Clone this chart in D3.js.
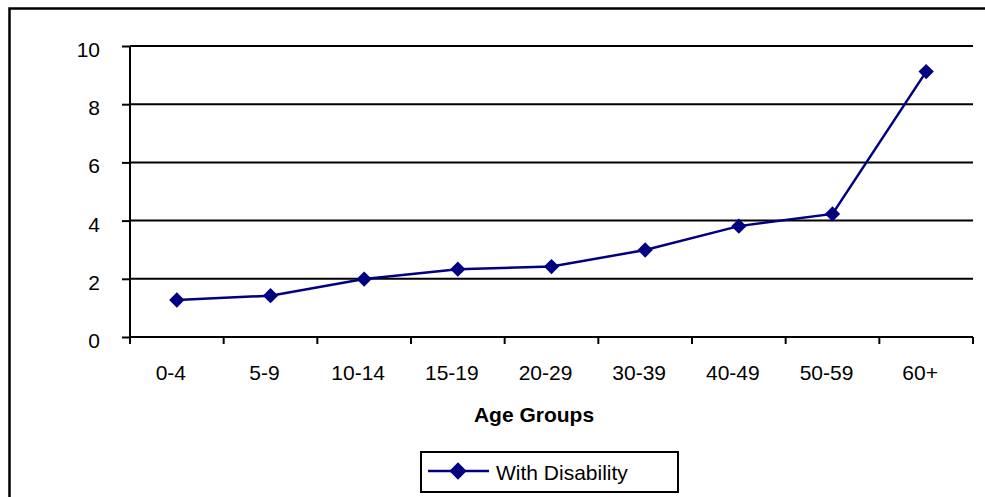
<!DOCTYPE html>
<html>
<head>
<meta charset="utf-8">
<script src="https://cdn.jsdelivr.net/npm/d3@7"></script>
<style>
  body { margin: 0; background: #fff; }
  text { font-family: "Liberation Sans", Arial, sans-serif; }
</style>
</head>
<body>
<svg width="985" height="497"></svg>
<script>
var categories = ["0-4", "5-9", "10-14", "15-19", "20-29", "30-39", "40-49", "50-59", "60+"];
var disabilityValues = [1.27, 1.42, 1.99, 2.33, 2.42, 2.99, 3.81, 4.23, 9.12];
var yTicks = [0, 2, 4, 6, 8, 10];
var seriesName = "With Disability";
var xTitle = "Age Groups";

var svg = d3.select("svg"),
    margin = {top: 46, right: 12, bottom: 160, left: 130},
    width = 973 - margin.left,
    height = 337 - margin.top;

// outer chart frame
svg.append("rect")
    .attr("x", 9.5).attr("y", 8.5)
    .attr("width", 990).attr("height", 500)
    .attr("fill", "none")
    .attr("stroke", "#000")
    .attr("stroke-width", 2.5);

var g = svg.append("g").attr("transform", "translate(" + margin.left + "," + margin.top + ")");

var x = d3.scaleBand().domain(categories).range([0, width]);
var y = d3.scaleLinear().domain([0, 10]).range([height, 0]);

// gridlines
g.selectAll(".grid")
    .data(yTicks.filter(function(d) { return d > 0; }))
    .enter().append("line")
    .attr("x1", 0).attr("x2", width)
    .attr("y1", function(d) { return y(d); })
    .attr("y2", function(d) { return y(d); })
    .attr("stroke", "#000")
    .attr("stroke-width", 2);

// y axis
var yAxis = g.append("g")
    .call(d3.axisLeft(y).tickValues(yTicks).tickSize(8).tickPadding(22));
yAxis.selectAll("path, line").attr("stroke", "#000").attr("stroke-width", 2);
yAxis.select(".domain").attr("d", "M0," + height + "V0");
yAxis.selectAll("text").style("font-size", "21px").attr("fill", "#000").attr("dy", "0.5em");

// x axis
var xAxis = g.append("g")
    .attr("transform", "translate(0," + height + ")")
    .call(d3.axisBottom(x).tickSize(0).tickPadding(28));
xAxis.select(".domain").attr("d", "M0,0H" + width).attr("stroke", "#000").attr("stroke-width", 2);
xAxis.selectAll("text").style("font-size", "21px").attr("fill", "#000").attr("dx", -6);
xAxis.selectAll(".sep")
    .data(d3.range(categories.length + 1))
    .enter().append("line")
    .attr("x1", function(i) { return i * x.bandwidth(); })
    .attr("x2", function(i) { return i * x.bandwidth(); })
    .attr("y1", 0).attr("y2", 7)
    .attr("stroke", "#000").attr("stroke-width", 2);

g.append("text")
    .attr("x", 534 - margin.left)
    .attr("y", 422 - margin.top)
    .attr("text-anchor", "middle")
    .style("font-size", "21px")
    .style("font-weight", "bold")
    .text(xTitle);

var line = d3.line()
    .x(function(d, i) { return x(categories[i]) + x.bandwidth() / 2; })
    .y(function(d) { return y(d); });

g.append("path")
    .datum(disabilityValues)
    .attr("d", line)
    .attr("fill", "none")
    .attr("stroke", "#000080")
    .attr("stroke-width", 2.5);

var diamond = d3.symbol().type(d3.symbolDiamond2).size(150);

g.selectAll(".pt")
    .data(disabilityValues)
    .enter().append("path")
    .attr("transform", function(d, i) {
        return "translate(" + (x(categories[i]) + x.bandwidth() / 2) + "," + y(d) + ")";
    })
    .attr("d", diamond)
    .attr("fill", "#000080");

// legend
var lg = svg.append("g").attr("transform", "translate(421,452)");
lg.append("rect")
    .attr("width", 257).attr("height", 40)
    .attr("fill", "#fff")
    .attr("stroke", "#000")
    .attr("stroke-width", 2);
lg.append("line")
    .attr("x1", 7).attr("x2", 68)
    .attr("y1", 19).attr("y2", 19)
    .attr("stroke", "#000080").attr("stroke-width", 2.5);
lg.append("path")
    .attr("transform", "translate(37,19)")
    .attr("d", d3.symbol().type(d3.symbolDiamond2).size(190))
    .attr("fill", "#000080");
lg.append("text")
    .attr("x", 75).attr("y", 28)
    .style("font-size", "21px")
    .text(seriesName);
</script>
</body>
</html>
